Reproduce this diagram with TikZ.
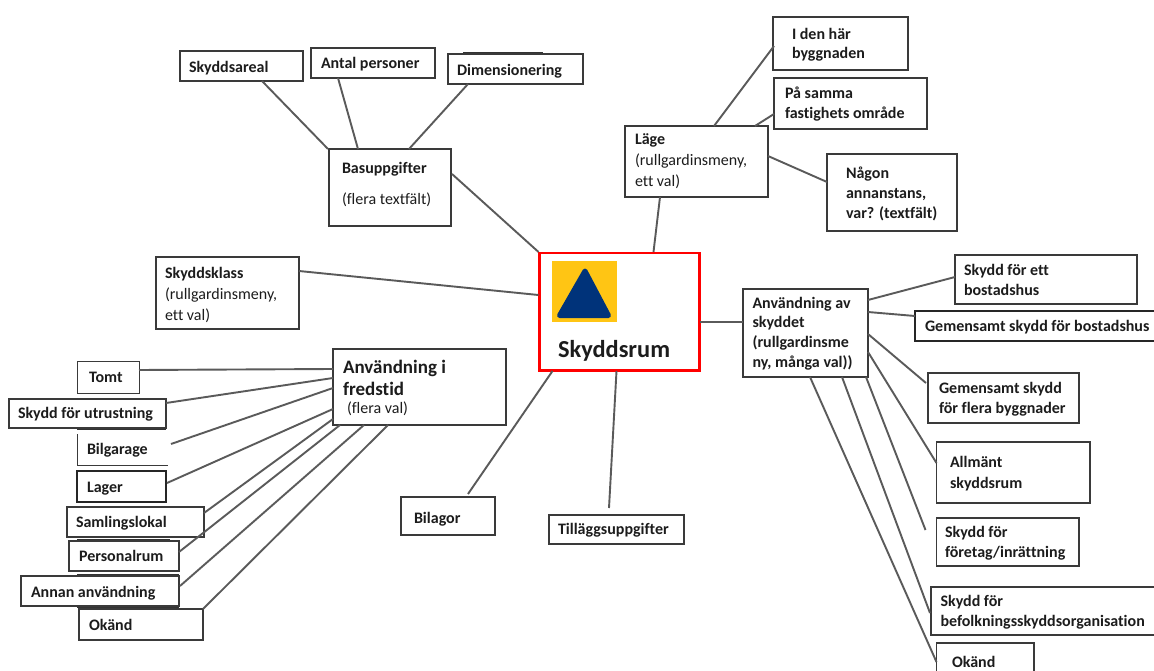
\documentclass[tikz,border=0pt]{standalone}
\usepackage{fontspec}
\setmainfont[Ligatures=NoCommon]{Carlito}
\definecolor{ink}{HTML}{1C1C1C}
\definecolor{edge}{HTML}{3A3A3A}
\definecolor{wire}{HTML}{5A5A5A}
\definecolor{shelterblue}{HTML}{00337A}
\definecolor{shelteryellow}{HTML}{FFC514}
\tikzset{
  boxnode/.style={draw=edge,line width=1.2pt,fill=white,inner sep=0pt,outer sep=0pt,anchor=north west},
  heavy/.style={line width=1.9pt,draw=black!85},
  nodraw/.style={draw=none},
  textnode/.style={inner sep=0pt,outer sep=0pt,anchor=north west,align=left,text=ink},
  wireline/.style={draw=wire,line width=1.9pt},
  ghost/.style={draw=black!80,line width=1.6pt},
}
% box: [style]{name}{x0}{y0}{x1}{y1}
\newcommand{\bx}[6][]{\node[boxnode,minimum width={(#5-#3)*1pt},minimum height={(#6-#4)*1pt},#1] (#2) at (#3,#4) {};}
% text: {name}{size}{line spacing}{x}{first baseline}{content}
\newcommand{\tx}[6]{\node[textnode,font=\fontsize{#2}{#3}\selectfont] (#1) at (#4,#5-11) {\rule{0pt}{11pt}#6};}
% connector between two boxes, offsets from each box's top-left corner
\newcommand{\lnk}[6]{\draw[wireline] ([xshift=#2pt,yshift=-#3pt]#1.north west) -- ([xshift=#5pt,yshift=-#6pt]#4.north west);}
\begin{document}
\begin{tikzpicture}[x=1pt,y=-1pt]
\useasboundingbox (0,0) rectangle (1154,671);
\fill[white] (0,0) rectangle (1154,671);

% traces of boxes lying underneath
\draw[ghost] (463,53) -- (543,53);
\draw[ghost] (77,429) -- (166,429);
\draw[ghost] (77,607) -- (179,607);
\draw[ghost] (77,575) -- (179,575);
\draw[ghost] (77,540) -- (170,540);

% centre
\bx[draw=red,line width=2.8pt]{centre}{539.5}{253}{699.5}{370.5}
\fill[shelteryellow] (552,261) rectangle (617,322);
\fill[shelterblue,draw=shelterblue,line width=5pt,line join=round] (585,271) -- (559.5,315.5) -- (608.5,315.5) -- cycle;
\tx{centretext}{24.4}{26}{558}{351}{\textbf{Skyddsrum}}

% top left
\bx{areal}{180}{51}{303}{81}
\tx{arealt}{16}{20}{189}{72}{\textbf{Skyddsareal}}
\bx{antal}{311}{48}{435}{78}
\tx{antalt}{16}{20}{321}{68}{\textbf{Antal personer}}
\bx{dim}{448}{54}{583}{84}
\tx{dimt}{16}{20}{457}{75}{\textbf{Dimensionering}}
\bx{bas}{329}{149}{451}{226}
\tx{bast}{16}{31}{342}{173}{\textbf{Basuppgifter}\\(flera textfält)}
\bx{klass}{156}{257}{299}{329}
\tx{klasst}{16}{21}{165}{278}{\textbf{Skyddsklass}\\(rullgardinsmeny,\\ett val)}

% top right
\bx{iden}{773}{17}{908}{70}
\tx{ident}{16}{19.5}{792}{39}{\textbf{I den här}\\\textbf{byggnaden}}
\bx[line width=1.5pt]{samma}{774}{78}{927}{129}
\tx{sammat}{16}{20}{785}{98}{\textbf{På samma}\\\textbf{fastighets område}}
\bx{lage}{625}{126}{768}{197}
\tx{laget}{16}{21}{635}{145}{\textbf{Läge}\\(rullgardinsmeny,\\ett val)}
\bx{nagon}{827}{154}{957}{231}
\tx{nagont}{16}{20}{846}{178}{\textbf{Någon}\\\textbf{annanstans,}\\\textbf{var? (textfält)}}

% left column
\bx[line width=.9pt]{tomt}{77}{361}{139}{393}
\tx{tomtt}{16}{20}{89}{382}{\textbf{Tomt}}
\bx{utr}{9}{399}{166}{428}
\tx{utrt}{16}{20}{18}{418}{\textbf{Skydd för utrustning}}
\bx[nodraw]{garage}{77}{434}{168}{465}
\draw[edge,line width=.9pt] (garage.north west) -- (garage.south west) -- (garage.south east);
\tx{garaget}{16}{20}{87}{454}{\textbf{Bilgarage}}
\bx[heavy]{lager}{77}{471}{166}{502}
\tx{lagert}{16}{20}{87}{492}{\textbf{Lager}}
\bx{saml}{67}{507}{204}{537}
\tx{samlt}{16}{20}{76}{527}{\textbf{Samlingslokal}}
\bx{pers}{69}{541}{179}{571}
\tx{perst}{16}{20}{79}{561}{\textbf{Personalrum}}
\bx{annan}{21}{576}{179}{606}
\tx{annant}{16}{20}{31}{597}{\textbf{Annan användning}}
\bx{okand}{79}{609}{203}{640}
\tx{okandt}{16}{20}{89}{630}{\textbf{Okänd}}
\bx{fred}{333}{349}{506}{425}
\tx{fredt}{19}{22}{343}{371}{\textbf{Användning i}\\\textbf{fredstid}}
\tx{fredv}{16}{20}{347}{413}{(flera val)}
\bx{bilagor}{401}{497}{495}{535}
\tx{bilagort}{16}{20}{414}{523}{\textbf{Bilagor}}
\bx{tillagg}{549}{515}{684}{544}
\tx{tillaggt}{16}{20}{558}{534}{\textbf{Tilläggsuppgifter}}

% right column
\bx{skyddet}{743}{289}{868}{377}
\tx{skyddett}{16}{19.7}{752.5}{308}{\textbf{Användning av}\\\textbf{skyddet}\\\textbf{(rullgardinsme}\\\textbf{ny, många val))}}
\bx{ett}{955}{255}{1137}{304}
\tx{ettt}{16}{20}{964}{275}{\textbf{Skydd för ett}\\\textbf{bostadshus}}
\bx[heavy]{gem}{915}{311}{1160}{341}
\tx{gemt}{16}{20}{925}{331}{\textbf{Gemensamt skydd för bostadshus}}
\bx[line width=1.5pt]{flera}{928}{373}{1079}{423}
\tx{merat}{16}{20}{939}{393}{\textbf{Gemensamt skydd}\\\textbf{för flera byggnader}}
\bx[line width=1.5pt]{allm}{936.5}{442}{1090}{503}
\tx{allmt}{16}{21}{950}{467}{\textbf{Allmänt}\\\textbf{skyddsrum}}
\bx{fore}{936.5}{518}{1079}{566}
\tx{foret}{16}{20}{945}{537}{\textbf{Skydd för}\\\textbf{företag/inrättning}}
\bx{befolk}{931}{587}{1160}{635}
\tx{befolkt}{16}{20}{940.5}{606}{\textbf{Skydd för}\\\textbf{befolkningsskyddsorganisation}}
\bx[line width=1.5pt]{okandb}{936.5}{643}{1034}{680}
\tx{okandbt}{16}{20}{952}{667}{\textbf{Okänd}}

% connectors
\lnk{tomt}{62}{9}{fred}{0}{20}
\lnk{utr}{157}{4}{fred}{0}{29}
\lnk{garage}{94}{10}{fred}{0}{39}
\lnk{lager}{90}{12}{fred}{0}{60}
\lnk{saml}{137}{6}{fred}{0}{70}
\lnk{pers}{110}{11}{fred}{7}{76}
\lnk{annan}{159}{10}{fred}{31}{76}
\lnk{okand}{124}{0}{fred}{55}{76}
\lnk{bilagor}{67}{-3}{centre}{13}{118}
\lnk{klass}{143}{14}{centre}{-1}{42}
\lnk{bas}{123}{25}{centre}{-1}{-1}
\lnk{lage}{35}{71}{centre}{114}{-1}
\lnk{centre}{160}{69}{skyddet}{0}{33}
\lnk{centre}{77}{118}{tillagg}{60}{-7}
\lnk{areal}{82}{30}{bas}{-1}{0}
\lnk{antal}{27}{30}{bas}{29}{0}
\lnk{dim}{20}{30}{bas}{80}{0}
\lnk{iden}{1}{29}{lage}{89}{0}
\lnk{samma}{0}{36}{lage}{130}{0}
\lnk{nagon}{0}{28}{lage}{143}{30}
\lnk{skyddet}{125}{11}{ett}{0}{22}
\lnk{skyddet}{125}{23}{gem}{0}{5}
\lnk{skyddet}{125}{45}{flera}{-2}{10}
\lnk{skyddet}{125}{63}{allm}{0}{21}
\lnk{skyddet}{123}{88}{fore}{-11}{12}
\lnk{skyddet}{99}{88}{befolk}{-1}{26}
\lnk{skyddet}{67}{88}{okandb}{0}{19}
\end{tikzpicture}
\end{document}
